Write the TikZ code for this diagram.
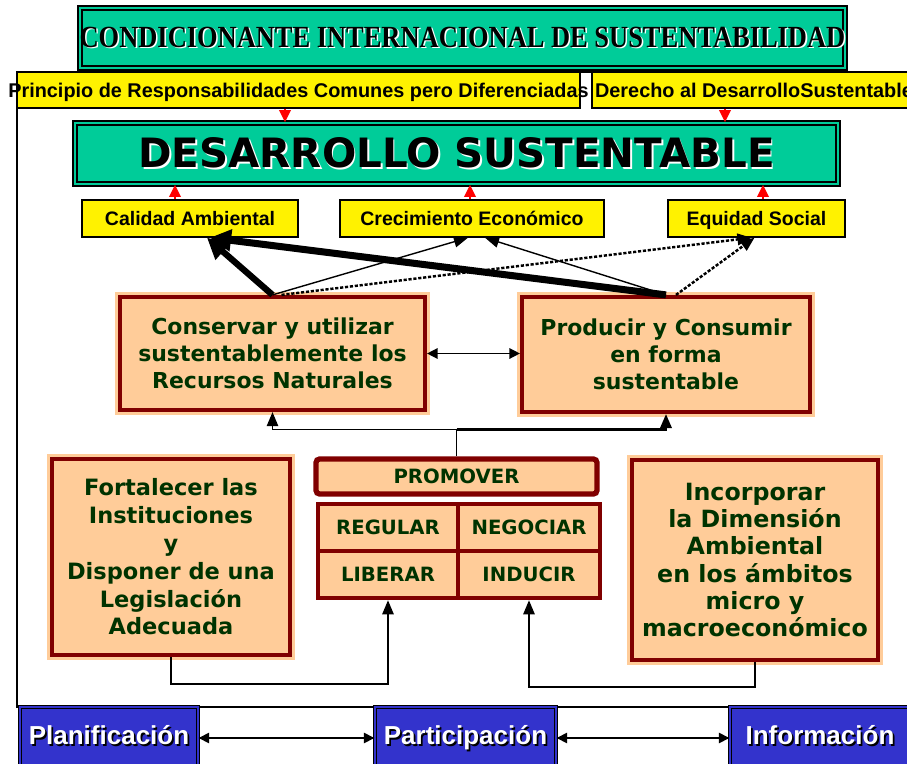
\documentclass[tikz,border=0pt]{standalone}
\usepackage{fontspec}
\usetikzlibrary{arrows.meta}
\newfontfamily\arialfont{Liberation Sans}
\newfontfamily\verdfont{DejaVu Sans}
\newfontfamily\timesfont{Liberation Serif}
\definecolor{seagreen}{RGB}{0,204,153}
\definecolor{maroon}{RGB}{128,0,0}
\definecolor{peach}{RGB}{255,204,153}
\definecolor{dkgreen}{RGB}{0,51,0}
\definecolor{royal}{RGB}{51,51,204}
\newcommand{\shtext}[2]{\rlap{\kern1pt\raisebox{-1pt}{\textcolor{#1}{#2}}}#2}
\tikzset{
  greenbox/.style={draw=black, line width=0.8pt, double=seagreen, double distance=1.6pt,
    fill=seagreen, inner sep=0pt},
  yelbox/.style={draw=black, line width=0.8pt, fill=yellow, inner sep=0pt,
    text height=0.95em, text depth=0.15em,
    font=\fontsize{11.1}{13}\selectfont\arialfont\bfseries},
  mbox/.style={draw=maroon, line width=2.4pt, fill=peach, inner sep=0pt, align=center,
    text=dkgreen, preaction={draw=peach, line width=5.4pt},
    append after command={\pgfextra{\draw[maroon, line width=0.7pt]
      ([shift={(3.4pt,3.4pt)}]\tikzlastnode.south west) rectangle
      ([shift={(-3.4pt,-3.4pt)}]\tikzlastnode.north east);}}},
  cellbox/.style={draw=maroon, line width=2.6pt, fill=peach, inner sep=0pt, text=dkgreen,
    font=\fontsize{11.2}{13}\selectfont\verdfont\bfseries},
  bluebox/.style={draw=black, line width=0.8pt, double=royal, double distance=1pt,
    fill=royal, inner sep=0pt, text=white, text height=0.9em, text depth=0.18em,
    font=\fontsize{14.8}{17}\selectfont\arialfont\bfseries},
  redarr/.style={red, line width=1.2pt, -{Triangle[length=7pt,width=6.5pt]}},
  thinarr/.style={line width=0.8pt, -{Triangle[length=8pt,width=6.5pt]}},
  heavyarr/.style={line width=3.6pt, -{Triangle[length=12pt,width=12pt]}},
  dotarr/.style={line width=1.4pt, dash pattern=on 1.8pt off 1pt,
    -{Triangle[length=8pt,width=6.5pt]}},
  bothway/.style={line width=0.8pt,
    {Triangle[length=6pt,width=6pt]}-{Triangle[length=6pt,width=6pt]}},
}
\begin{document}
\begin{tikzpicture}[x=0.02cm,y=-0.02cm]
  \useasboundingbox (0,0) rectangle (907,764);
  \draw[line width=0.8pt] (17,72) rectangle (930,707);

  \node[greenbox, minimum width=15.3cm, minimum height=1.2cm,
    font=\fontsize{17.5}{19}\selectfont\timesfont\bfseries] (cond) at (462.5,38)
    {\makebox[0pt]{\scalebox{0.86}[1]{\shtext{white}{CONDICIONANTE INTERNACIONAL DE SUSTENTABILIDAD}}}};
  \node[yelbox, minimum width=11.26cm, minimum height=0.72cm,
    font=\fontsize{11.3}{13}\selectfont\arialfont\bfseries] (prin) at (298.5,90)
    {\makebox[0pt]{Principio de Responsabilidades Comunes pero Diferenciadas}};
  \node[yelbox, minimum width=6.48cm, minimum height=0.72cm,
    font=\fontsize{11.3}{13}\selectfont\arialfont\bfseries] (der) at (754,90)
    {\makebox[0pt]{Derecho al DesarrolloSustentable}};
  \node[greenbox, minimum width=15.26cm, minimum height=1.22cm,
    font=\fontsize{23}{26}\selectfont\verdfont\bfseries] (ds) at (456.5,153.5)
    {\shtext{white}{DESARROLLO SUSTENTABLE}};

  \node[yelbox, minimum width=4.32cm, minimum height=0.74cm] (cal) at (190,218.5)
    {Calidad Ambiental};
  \node[yelbox, minimum width=5.28cm, minimum height=0.74cm] (crec) at (472,218.5)
    {Crecimiento Económico};
  \node[yelbox, minimum width=3.54cm, minimum height=0.74cm] (equ) at (756.5,218.5)
    {Equidad Social};

  \draw[redarr] ([xshift=-0.27cm]prin.south) -- ([xshift=-0.27cm]prin.south |- ds.north);
  \draw[redarr] ([xshift=-0.58cm]der.south) -- ([xshift=-0.58cm]der.south |- ds.north);
  \draw[redarr] ([xshift=-0.3cm]cal.north) -- ([xshift=-0.3cm]cal.north |- ds.south);
  \draw[redarr] ([xshift=-0.04cm]crec.north) -- ([xshift=-0.04cm]crec.north |- ds.south);
  \draw[redarr] ([xshift=0.13cm]equ.north) -- ([xshift=0.13cm]equ.north |- ds.south);

  \node[mbox, minimum width=6.1cm, minimum height=2.26cm,
    font=\fontsize{12.5}{15.4}\selectfont\verdfont\bfseries] (cons) at (272.5,353.5)
    {Conservar y utilizar\\sustentablemente los\\Recursos Naturales};
  \node[mbox, minimum width=5.76cm, minimum height=2.3cm,
    font=\fontsize{12.5}{15.4}\selectfont\verdfont\bfseries] (prod) at (666,354.5)
    {Producir y Consumir\\en forma\\sustentable};

  \draw[heavyarr] (cons.north) -- ([xshift=0.34cm]cal.south);
  \draw[heavyarr, line width=4pt] (prod.north) -- ([xshift=0.4cm]cal.south);
  \draw[thinarr] (cons.north) -- ([xshift=-0.08cm]crec.south);
  \draw[thinarr] (prod.north) -- ([xshift=0.26cm]crec.south);
  \draw[dotarr] ([xshift=0.18cm]cons.north) -- ([xshift=-0.1cm]equ.south);
  \draw[dotarr] ([xshift=0.2cm]prod.north) -- ([xshift=-0.04cm]equ.south);
  \draw[bothway] (cons.east) -- (cons.east -| prod.west);

  \node[cellbox, rounded corners=2pt, line width=3pt, minimum width=5.62cm,
    minimum height=0.7cm] (prom) at (456.5,476.5) {PROMOVER};
  \node[cellbox, minimum width=2.8cm, minimum height=0.94cm] (reg) at (388,527.5) {REGULAR};
  \node[cellbox, minimum width=2.84cm, minimum height=0.94cm] (neg) at (529,527.5) {NEGOCIAR};
  \node[cellbox, minimum width=2.8cm, minimum height=0.94cm] (lib) at (388,574.5) {LIBERAR};
  \node[cellbox, minimum width=2.84cm, minimum height=0.94cm] (ind) at (529,574.5) {INDUCIR};

  \draw[thinarr] (prom.north) -- ++(0,-27) coordinate (split) -| (cons.south);
  \draw[thinarr, line width=1.3pt] (split) -| (prod.south);

  \node[mbox, minimum width=4.76cm, minimum height=3.92cm,
    font=\fontsize{12.8}{15.8}\selectfont\verdfont\bfseries] (fort) at (171,557)
    {Fortalecer las\\Instituciones\\y\\Disponer de una\\Legislación\\Adecuada};
  \node[mbox, minimum width=4.92cm, minimum height=4cm,
    font=\fontsize{13.5}{15.5}\selectfont\verdfont\bfseries] (inc) at (755,560)
    {Incorporar\\la Dimensión\\Ambiental\\en los ámbitos\\micro y\\macroeconómico};

  \draw[thinarr] (fort.south) -- ++(0,27) -| (lib.south);
  \draw[thinarr] (inc.south) -- ++(0,25) -| (ind.south);

  \node[bluebox, minimum width=3.56cm, minimum height=1.24cm] (plan) at (109,738)
    {\shtext{black}{Planificación}};
  \node[bluebox, minimum width=3.62cm, minimum height=1.24cm] (part) at (465.5,738)
    {\shtext{black}{Participación}};
  \node[bluebox, minimum width=3.6cm, minimum height=1.24cm] (info) at (820,738)
    {\shtext{black}{Información}};
  \draw[bothway] (plan.east) -- (part.west);
  \draw[bothway] (part.east) -- (info.west);
\end{tikzpicture}
\end{document}
